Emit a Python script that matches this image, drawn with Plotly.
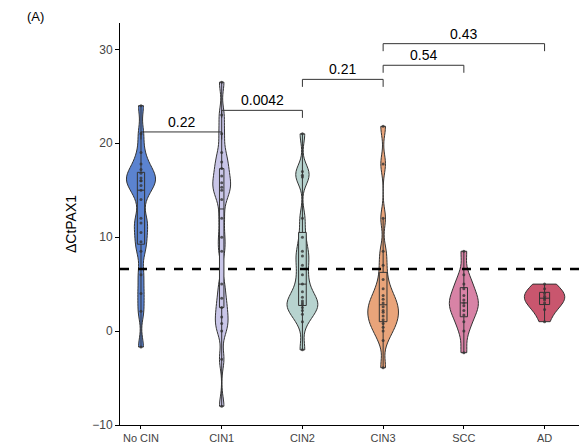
import plotly.graph_objects as go

groups = ["No CIN", "CIN1", "CIN2", "CIN3", "SCC", "AD"]
colors = ["#5b83d0", "#c9c6e8", "#b7d3cf", "#e9a47a", "#d883a6", "#c9566e"]
widths = [0.36, 0.22, 0.38, 0.38, 0.36, 0.5]

no_cin = [-1.7, 2.1, 4, 6, 8.5, 9.5, 10.5, 11.5, 12, 14, 15, 15.5, 16, 16, 16.3, 16.8, 17.2, 17.8, 19, 21, 24]
cin1 = [-8, -3, 0, 0.8, 1.5, 2.5, 3.5, 5, 8.5, 10, 12, 14, 15, 15.3, 15.8, 16.5, 17.3, 18, 19, 21, 23, 26.5]
cin2 = [-2, 1, 1.8, 2.2, 2.5, 2.8, 3, 3.2, 3.6, 4.2, 5, 6, 7, 8, 8.5, 10, 12, 16.4, 16.6, 17, 21]
cin3 = [-3.9, -1, 0, 0.4, 0.8, 1.2, 1.6, 2, 2.2, 2.6, 3, 3.4, 3.8, 4.5, 5.5, 7, 8.5, 12, 17.8, 21.8]
scc = [-2.3, 0, 1, 1.7, 2.2, 2.7, 3, 3.3, 3.8, 4.5, 5, 6, 8.5]
ad = [1, 2.3, 3, 3.3, 3.5, 3.7, 4, 4.5, 5]
values = [no_cin, cin1, cin2, cin3, scc, ad]

cutoff = 6.6
# (left index, right index, height, label)
comparisons = [(0, 1, 21.2, "0.22"), (1, 2, 23.5, "0.0042"), (2, 3, 26.8, "0.21"),
               (3, 4, 28.3, "0.54"), (3, 5, 30.6, "0.43")]

fig = go.Figure()
for name, col, w, vals in zip(groups, colors, widths, values):
    fig.add_trace(go.Violin(
        x=[name] * len(vals), y=vals, name=name, fillcolor=col, opacity=1,
        line={"color": "#333333", "width": 1}, spanmode="hard", width=w,
        box={"visible": True, "width": 0.25, "fillcolor": col, "line": {"color": "#333333", "width": 1}},
        meanline={"visible": False}, points="all", jitter=0, pointpos=0,
        marker={"color": "#333333", "size": 3, "opacity": 0.8}, showlegend=False, bandwidth=1.0,
    ))

fig.add_hline(y=cutoff, line_dash="dash", line_color="black", line_width=2.5)

for a, b, h, lab in comparisons:
    fig.add_shape(type="path", xref="x", yref="y",
                  path=f"M {a},{h - 0.8} L {a},{h} L {b},{h} L {b},{h - 0.8}",
                  line={"color": "#333333", "width": 1})
    fig.add_annotation(x=(a + b) / 2, y=h, text=lab, showarrow=False, yanchor="bottom",
                       font={"size": 14, "color": "black"})

fig.add_annotation(xref="paper", yref="paper", x=-0.2, y=1.04, text="(A)", showarrow=False,
                   xanchor="left", yanchor="top", font={"size": 13, "color": "black"})

fig.update_layout(
    width=587, height=445,
    paper_bgcolor="white", plot_bgcolor="white",
    font={"family": "Liberation Sans, Arial", "color": "#333333"},
    margin={"l": 112, "r": 2, "t": 15, "b": 28},
    xaxis={"type": "category", "categoryorder": "array", "categoryarray": groups,
           "range": [-0.26, 5.6], "showline": True, "linecolor": "black", "ticks": "outside",
           "ticklen": 3, "tickcolor": "black", "tickfont": {"size": 11, "color": "#444444"},
           "showgrid": False, "zeroline": False},
    yaxis={"range": [-10, 32.8], "tickvals": [-10, 0, 10, 20, 30], "showline": True,
           "linecolor": "black", "ticks": "outside", "ticklen": 4, "tickcolor": "black",
           "tickfont": {"size": 12, "color": "#444444"}, "showgrid": False, "zeroline": False,
           "title": {"text": "ΔCtPAX1", "font": {"size": 14, "color": "black"}, "standoff": 12}},
    violingap=0, violinmode="overlay",
)

fig.write_html("out.html")
